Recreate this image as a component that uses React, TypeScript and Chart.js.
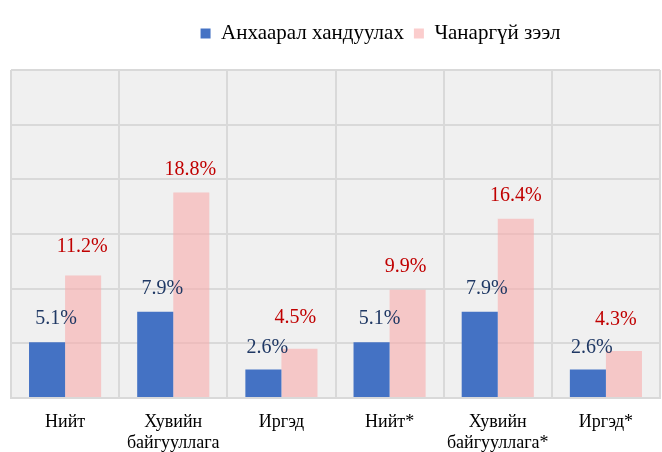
import React, { useEffect, useRef } from "react";
import { Chart, registerables } from "chart.js";

Chart.register(...registerables);

const categories: string[][] = [
  ["Нийт"],
  ["Хувийн", "байгууллага"],
  ["Иргэд"],
  ["Нийт*"],
  ["Хувийн", "байгууллага*"],
  ["Иргэд*"],
];
const seriesNames = ["Анхаарал хандуулах", "Чанаргүй зээл"];
const attentionValues = [5.1, 7.9, 2.6, 5.1, 7.9, 2.6];
const badLoanValues = [11.2, 18.8, 4.5, 9.9, 16.4, 4.3];
const yTicks = { min: 0, max: 30, step: 5 };

const FONT = "'Liberation Serif', 'Times New Roman', serif";

const plotBgPlugin = {
  id: "plotBg",
  beforeDraw(chart: any) {
    const { ctx, chartArea } = chart;
    ctx.save();
    ctx.fillStyle = "#f0f0f0";
    ctx.fillRect(chartArea.left, chartArea.top, chartArea.right - chartArea.left, chartArea.bottom - chartArea.top);
    ctx.restore();
  },
};

const legendTweakPlugin = {
  id: "legendTweak",
  beforeInit(chart: any) {
    const lg = chart.legend;
    if (!lg) return;
    const origFit = lg.fit;
    lg.fit = function () {
      origFit.call(this);
      this.height += 16;
    };
    const origDraw = lg.draw;
    lg.draw = function () {
      const ctx = this.ctx;
      ctx.save();
      ctx.translate(45, 0);
      origDraw.call(this);
      ctx.restore();
    };
  },
};

// label offsets relative to bar top (style only)
const labelStyle = [
  { color: "#1f3864", dx: [9, 7, 4, 8, 7, 4], dy: [23, 23, 22, 23, 23, 22] },
  { color: "#c00000", dx: [-1, -1, -4, -2, 0, -8], dy: [29, 23, 31, 23, 23, 31] },
];

const labelPlugin = {
  id: "barLabels",
  afterDatasetsDraw(chart: any) {
    const { ctx } = chart;
    ctx.save();
    ctx.font = `20px ${FONT}`;
    ctx.textAlign = "center";
    ctx.textBaseline = "middle";
    chart.data.datasets.forEach((ds: any, di: number) => {
      const meta = chart.getDatasetMeta(di);
      const st = labelStyle[di];
      ctx.fillStyle = st.color;
      meta.data.forEach((el: any, i: number) => {
        const v = ds.data[i];
        ctx.fillText(v.toFixed(1) + "%", el.x + st.dx[i], el.y - st.dy[i]);
      });
    });
    ctx.restore();
  },
};

export default function App() {
  const ref = useRef<HTMLCanvasElement>(null);
  useEffect(() => {
    if (!ref.current) return;
    const chart = new Chart(ref.current, {
      type: "bar",
      data: {
        labels: categories,
        datasets: [
          {
            label: seriesNames[0],
            data: attentionValues,
            backgroundColor: "#4472c4",
            categoryPercentage: 2 / 3,
            barPercentage: 1,
          },
          {
            label: seriesNames[1],
            data: badLoanValues,
            backgroundColor: "rgba(248,172,172,0.6)",
            categoryPercentage: 2 / 3,
            barPercentage: 1,
          },
        ],
      },
      options: {
        responsive: false,
        animation: false,
        devicePixelRatio: 1,
        layout: { padding: { left: 11, right: 2, top: 13, bottom: 0 } },
        plugins: {
          legend: {
            position: "top",
            labels: {
              boxWidth: 10,
              boxHeight: 10,
              color: "#000",
              padding: 10,
              font: { family: FONT, size: 21 },
            },
          },
          tooltip: { enabled: false },
        },
        scales: {
          x: {
            grid: { color: "#d9d9d9", lineWidth: 2, drawTicks: false, offset: true },
            border: { color: "#d9d9d9", width: 2 },
            ticks: {
              color: "#000",
              font: { family: FONT, size: 18 },
              padding: 13,
              maxRotation: 0,
              autoSkip: false,
            },
            afterFit(scale: any) {
              scale.height = 54;
            },
          },
          y: {
            min: yTicks.min,
            max: yTicks.max,
            ticks: { display: false, stepSize: yTicks.step },
            grid: { color: "#d9d9d9", lineWidth: 2, drawTicks: false },
            border: { display: false },
          },
        },
      },
      plugins: [plotBgPlugin, legendTweakPlugin, labelPlugin],
    });
    return () => chart.destroy();
  }, []);
  return (
    <div style={{ position: "fixed", left: 0, top: 0, width: 662, height: 452, background: "#fff" }}>
      <canvas ref={ref} width={662} height={452} style={{ width: 662, height: 452, display: "block" }} />
    </div>
  );
}
